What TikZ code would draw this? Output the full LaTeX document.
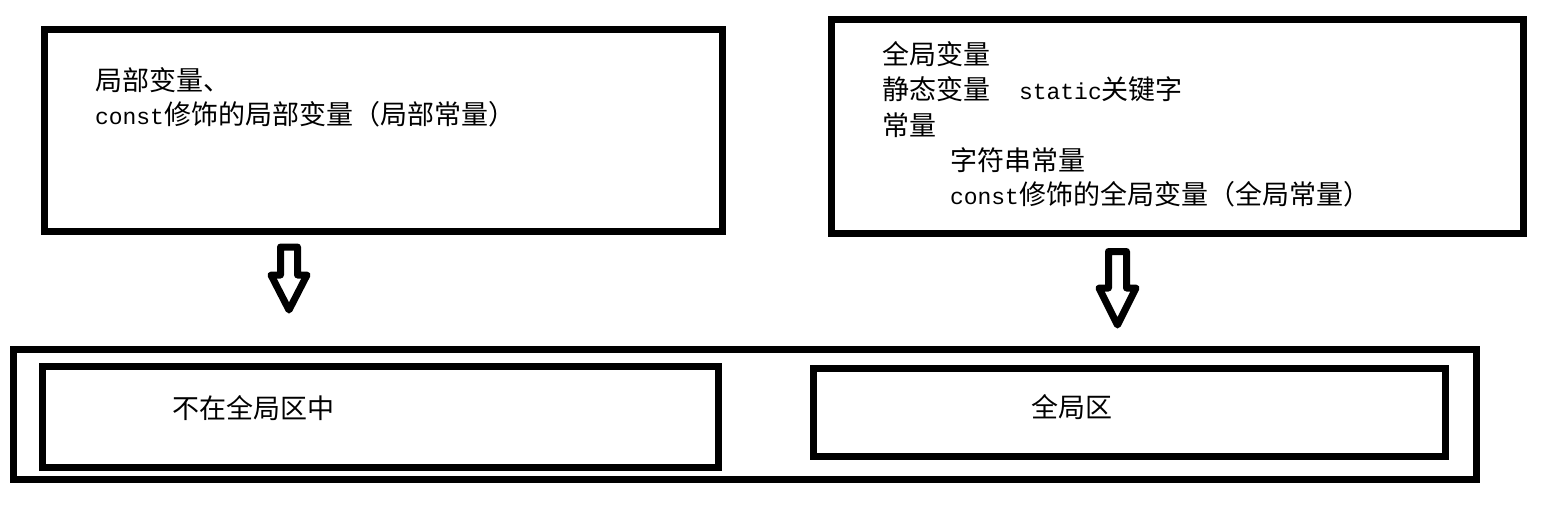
\documentclass[tikz,border=0pt]{standalone}
\usepackage{fontspec}
\setmainfont{Noto Sans CJK SC}
\newfontfamily\latmono{Liberation Mono}
\newcommand{\lat}[1]{{\latmono\fontsize{23pt}{35pt}\selectfont #1}}
\begin{document}
\begin{tikzpicture}[x=1pt,y=-1pt,
  boxframe/.style={draw=black,line width=7pt,line join=miter,minimum width=#1,inner sep=0pt,outer sep=0pt},
  txt/.style={anchor=base west,inner sep=0pt,outer sep=0pt,font=\fontsize{27pt}{35pt}\selectfont,text=black},
  blockarrow/.style={draw=black,line width=7pt,line join=round,fill=white}]
\useasboundingbox[fill=white] (0,0) rectangle (1553,515);
% top boxes
\node[boxframe=678pt,minimum height=202pt] (local) at (383.5,130.5) {};
\node[boxframe=691.5pt,minimum height=214pt] (global) at (1177.25,126.5) {};
% bottom container and areas
\node[boxframe=1463pt,minimum height=130pt] (mem) at (744.5,414.5) {};
\node[boxframe=676.5pt,minimum height=100.5pt] (notglobal) at (380.25,416.75) {};
\node[boxframe=632pt,minimum height=88.5pt] (globalarea) at (1129.5,412.25) {};
% texts
\node[txt] (t1) at (95,90) {局部变量、};
\node[txt] (t2) at (95,124) {\lat{const}修饰的局部变量（局部常量）};
\node[txt] (g1) at (882,64.5) {全局变量};
\node[txt] (g2) at (882,99) {静态变量\hspace{29pt}\lat{static}关键字};
\node[txt] (g3) at (882,135) {常量};
\node[txt] (g4) at (950,170) {字符串常量};
\node[txt] (g5) at (950,204) {\lat{const}修饰的全局变量（全局常量）};
\node[txt] (n1) at (172,418) {不在全局区中};
\node[txt] (n2) at (1031,417.5) {全局区};
% hollow block arrows
\draw[blockarrow] (280.5,247) -- (297.5,247) -- (297.5,275) -- (307,275) -- (289,310) -- (271,275) -- (280.5,275) -- cycle;
\draw[blockarrow] (1108.5,251.5) -- (1126.5,251.5) -- (1126.5,288) -- (1136,288) -- (1117.5,325) -- (1099,288) -- (1108.5,288) -- cycle;
\end{tikzpicture}
\end{document}
